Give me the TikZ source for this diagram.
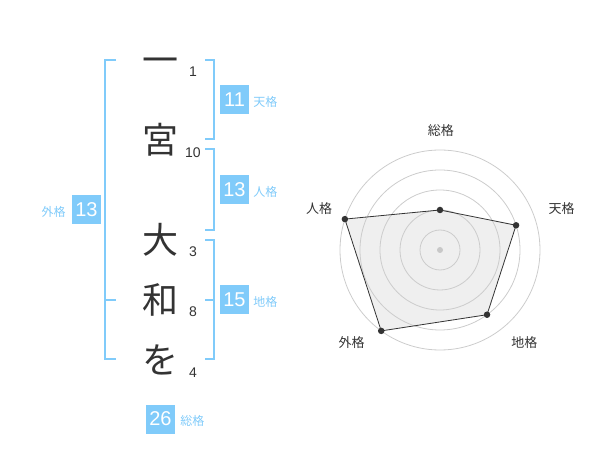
\documentclass[tikz,border=0pt]{standalone}
\usepackage{fontspec}
\setmainfont{Liberation Sans}
\newfontfamily\jpfont{Noto Sans CJK JP}
\usetikzlibrary{positioning, calc}
\definecolor{kakublue}{HTML}{80CBFA}
\definecolor{inkgray}{HTML}{333333}
\definecolor{ringgray}{HTML}{CCCCCC}
\definecolor{areagray}{HTML}{EFEFEF}
\definecolor{centergray}{HTML}{C8C8C8}

\begin{document}
\begin{tikzpicture}[
  x=1pt, y=-1pt,
  kanji/.style={text=inkgray, font=\jpfont\fontsize{36}{36}\selectfont, inner sep=0pt, text height=31.7pt, text depth=4.3pt},
  strokes/.style={text=inkgray, font=\fontsize{14}{14}\selectfont, inner sep=0pt},
  score/.style={rectangle, fill=kakublue, text=white, minimum size=29pt, inner sep=0pt, font=\fontsize{20}{20}\selectfont},
  kaku/.style={text=kakublue, font=\jpfont\fontsize{12}{12}\selectfont, inner sep=0pt},
  bracket/.style={draw=kakublue, line width=2pt},
  axislabel/.style={text=inkgray, font=\jpfont\fontsize{13}{13}\selectfont, inner sep=0pt, text height=11.4pt, text depth=1.6pt},
  ring/.style={draw=ringgray, line width=0.8pt},
  datadot/.style={circle, fill=inkgray, inner sep=0pt, minimum size=6.5pt}
]
  \useasboundingbox (0,0) rectangle (600,470);

  % Name characters
  \node[kanji] (c1) at (160,60) {一};
  \node[kanji] (c2) at (160,140) {宮};
  \node[kanji] (c3) at (160,240) {大};
  \node[kanji] (c4) at (160,300) {和};
  \node[kanji] (c5) at (160,360) {を};

  % Stroke counts
  \node[strokes] (n1) at (193,72) {1};
  \node[strokes] (n2) at (193,152.5) {10};
  \node[strokes] (n3) at (193,252) {3};
  \node[strokes] (n4) at (193,312) {8};
  \node[strokes] (n5) at (193,373) {4};

  % Brackets
  \draw[bracket] (116,60) -- (105,60) -- (105,359) -- (116,359);
  \draw[bracket] (105,300) -- (116,300);
  \draw[bracket] (205,60) -- (214,60) -- (214,139) -- (205,139);
  \draw[bracket] (205,149) -- (214,149) -- (214,230) -- (205,230);
  \draw[bracket] (205,240) -- (214,240) -- (214,359) -- (205,359);
  \draw[bracket] (205,300) -- (214,300);

  % Scores
  \node[score] (ten) at (234.5,100) {11};
  \node[score] (jin) at (234.5,190) {13};
  \node[score] (chi) at (234.5,300) {15};
  \node[score] (gai) at (86.5,210) {13};
  \node[score] (sou) at (160.5,419) {26};
  \node[kaku, base right=4pt of ten] (tenl) {天格};
  \node[kaku, base right=4pt of jin] (jinl) {人格};
  \node[kaku, base right=4pt of chi] (chil) {地格};
  \node[kaku, base left=6pt of gai] (gail) {外格};
  \node[kaku, base right=5pt of sou] (soul) {総格};

  % Radar chart
  \coordinate (o) at (440,250);
  \coordinate (p1) at ($(o)+(90:40pt)$);
  \coordinate (p2) at ($(o)+(18:80pt)$);
  \coordinate (p3) at ($(o)+(-54:80pt)$);
  \coordinate (p4) at ($(o)+(-126:100pt)$);
  \coordinate (p5) at ($(o)+(162:100pt)$);
  \fill[areagray] (p1) -- (p2) -- (p3) -- (p4) -- (p5) -- cycle;
  \foreach \r in {20,40,60,80,100}
    \draw[ring] (o) circle[radius=\r pt];
  \draw[inkgray, line width=0.8pt] (p1) -- (p2) -- (p3) -- (p4) -- (p5) -- cycle;
  \foreach \p in {p1,p2,p3,p4,p5}
    \node[datadot] at (\p) {};
  \node[circle, fill=centergray, inner sep=0pt, minimum size=6pt] (mid) at (o) {};

  % Axis labels
  \node[axislabel] (axsou) at (440.8,130.5) {総格};
  \node[axislabel] (axten) at (561.7,208.7) {天格};
  \node[axislabel] (axchi) at (524.3,342.5) {地格};
  \node[axislabel] (axgai) at (351.7,342.5) {外格};
  \node[axislabel] (axjin) at (319.2,208.7) {人格};
\end{tikzpicture}
\end{document}
